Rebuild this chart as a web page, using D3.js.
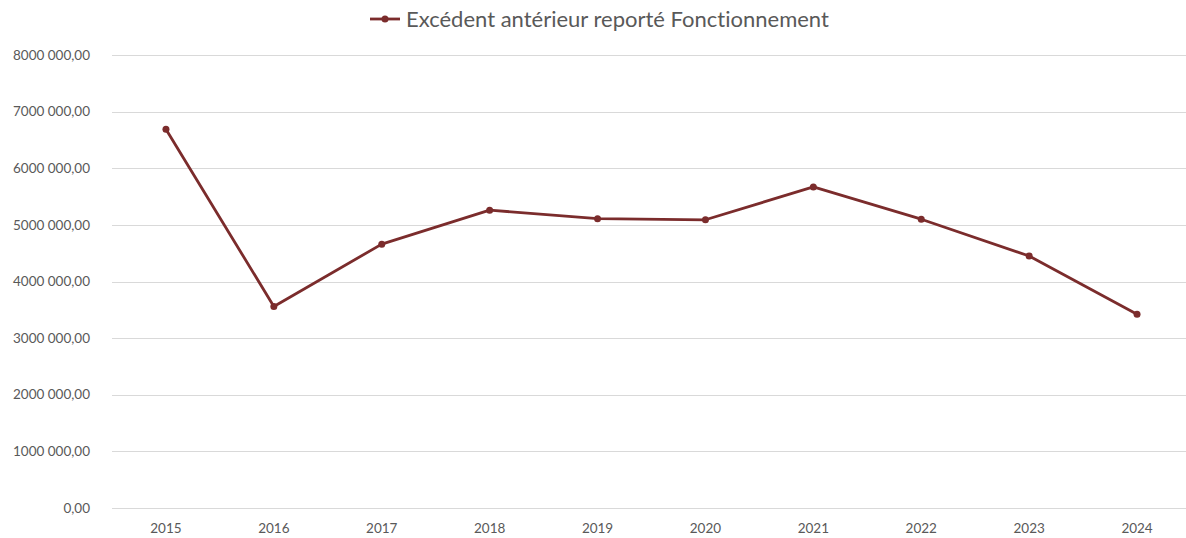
<!DOCTYPE html>
<meta charset="utf-8">
<style>
body { margin: 0; background: #fff; }
text { font-family: Lato, "Open Sans", sans-serif; fill: #595959; font-variant-ligatures: none; }
.grid line { stroke: #d9d9d9; stroke-width: 1; }
</style>
<body>
<svg width="1186" height="538"></svg>
<script src="https://d3js.org/d3.v7.min.js"></script>
<script>

var years = ["2015", "2016", "2017", "2018", "2019", "2020", "2021", "2022", "2023", "2024"];
var values = [6690000, 3560000, 4660000, 5260000, 5110000, 5090000, 5670000, 5100000, 4450000, 3420000];
var yTicks = [0, 1000000, 2000000, 3000000, 4000000, 5000000, 6000000, 7000000, 8000000];
var seriesName = "Excédent antérieur reporté Fonctionnement";

var svg = d3.select("svg"),
    plotLeft = 112, plotRight = 1191, plotTop = 55, plotBottom = 508;

var x = d3.scaleBand().domain(years).range([plotLeft, plotRight]);
var y = d3.scaleLinear().domain([0, 8000000]).range([plotBottom, plotTop]);

var color = "#7b2c2c";

// number like "8000 000,00"
function fmt(v) {
    if (v === 0) return "0,00";
    var s = String(Math.round(v));
    return s.slice(0, s.length - 3) + " " + s.slice(-3) + ",00";
}

// gridlines
svg.append("g")
    .attr("class", "grid")
    .selectAll("line")
    .data(yTicks)
    .enter().append("line")
    .attr("x1", plotLeft)
    .attr("x2", 1186)
    .attr("y1", function(d) { return Math.round(y(d)) + 0.5; })
    .attr("y2", function(d) { return Math.round(y(d)) + 0.5; });

// y labels
svg.append("g")
    .selectAll("text")
    .data(yTicks)
    .enter().append("text")
    .attr("x", 90)
    .attr("y", function(d) { return y(d); })
    .attr("dy", "0.35em")
    .attr("text-anchor", "end")
    .attr("font-size", 13.5)
    .text(fmt);

// x labels
svg.append("g")
    .selectAll("text")
    .data(years)
    .enter().append("text")
    .attr("x", function(d) { return x(d) + x.bandwidth() / 2; })
    .attr("y", 533)
    .attr("text-anchor", "middle")
    .attr("font-size", 13.5)
    .text(function(d) { return d; });

var line = d3.line()
    .x(function(d, i) { return x(years[i]) + x.bandwidth() / 2; })
    .y(function(d) { return y(d); });

svg.append("path")
    .datum(values)
    .attr("fill", "none")
    .attr("stroke", color)
    .attr("stroke-width", 2.8)
    .attr("stroke-linejoin", "round")
    .attr("d", line);

svg.append("g")
    .selectAll("circle")
    .data(values)
    .enter().append("circle")
    .attr("cx", function(d, i) { return x(years[i]) + x.bandwidth() / 2; })
    .attr("cy", function(d) { return y(d); })
    .attr("r", 3.5)
    .attr("fill", color);

// legend
var lg = svg.append("g").attr("transform", "translate(370,19)");
lg.append("line")
    .attr("x1", 0).attr("x2", 30)
    .attr("stroke", color).attr("stroke-width", 2.8);
lg.append("circle").attr("cx", 15).attr("r", 3.5).attr("fill", color);
lg.append("text")
    .attr("x", 36)
    .attr("dy", "0.35em")
    .attr("font-size", 22)
    .text(seriesName);

</script>
</body>
